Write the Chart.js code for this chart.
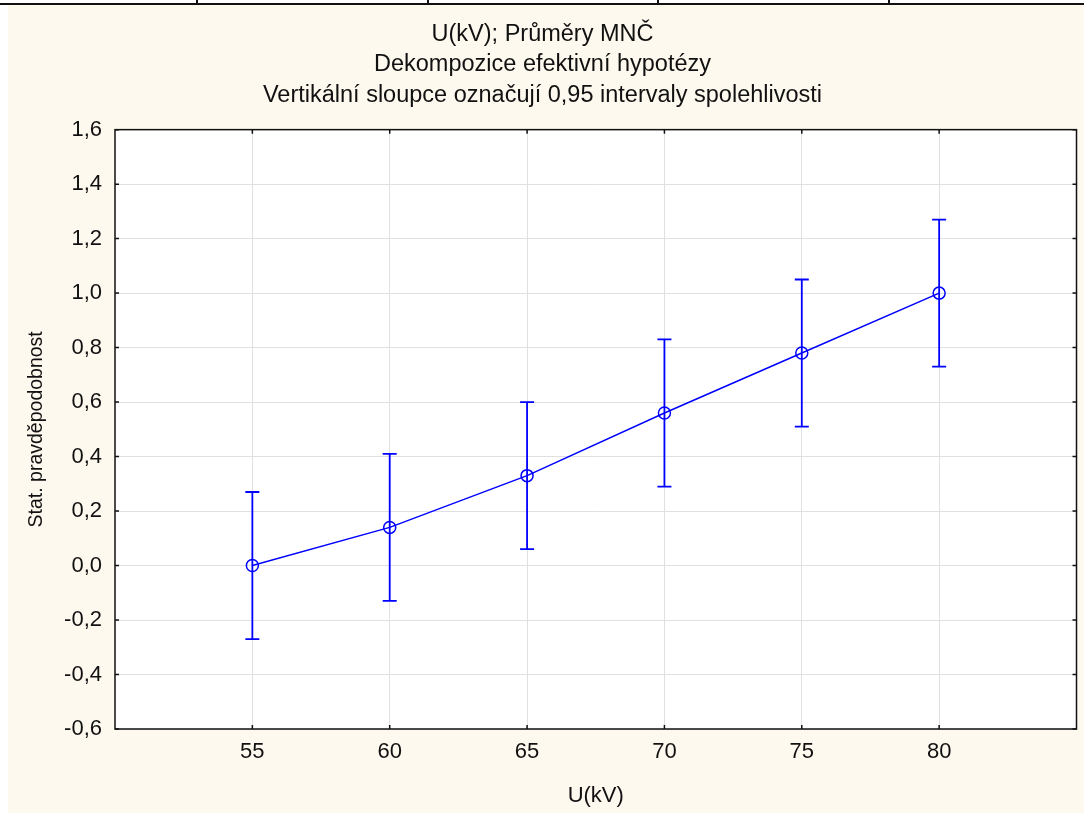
<!DOCTYPE html>
<html>
<head>
<meta charset="utf-8">
<script src="https://cdn.jsdelivr.net/npm/chart.js@4/dist/chart.umd.min.js"></script>
<style>
  body { margin: 0; background: #fff; width: 1084px; height: 813px; position: relative; overflow: hidden; }
  .rule { position: absolute; left: 0; top: 3px; width: 1084px; height: 2px; background: #111; }
  .tick { position: absolute; top: 0; width: 2px; height: 4px; background: #111; }
  #wrap { position: absolute; left: 8px; top: 5px; width: 1076px; height: 808px; background: #fef9ee; }
</style>
</head>
<body>
<div class="rule"></div>
<div class="tick" style="left:196px"></div>
<div class="tick" style="left:427px"></div>
<div class="tick" style="left:657px"></div>
<div class="tick" style="left:888px"></div>
<div id="wrap"><canvas id="chart" width="1076" height="808"></canvas></div>
<script>
// --- dados (U v kV, průměry a 0,95 intervaly) ---
const voltages = [55, 60, 65, 70, 75, 80];
const means = [0.00, 0.14, 0.33, 0.56, 0.78, 1.00];
const lower = [-0.27, -0.13, 0.06, 0.29, 0.51, 0.73];
const upper = [0.27, 0.41, 0.60, 0.83, 1.05, 1.27];
const xTicks = [55, 60, 65, 70, 75, 80];
const titleLines = ['U(kV); Průměry MNČ', 'Dekompozice efektivní hypotézy', 'Vertikální sloupce označují 0,95 intervaly spolehlivosti'];

const FONT = 'Arial, "Liberation Sans", sans-serif';
const BLUE = '#0000ff';

// bílá plocha grafu, chybové úsečky + rámeček s vnitřními značkami
const extras = {
    id: 'extras',
    beforeDraw(chart) {
        const { ctx, chartArea: a } = chart;
        ctx.save();
        ctx.fillStyle = '#fff';
        ctx.fillRect(a.left, a.top, a.right - a.left, a.bottom - a.top);
        ctx.restore();
    },
    afterDatasetsDraw(chart) {
        const { ctx, chartArea: a, scales: { x, y } } = chart;
        ctx.save();
        ctx.strokeStyle = BLUE;
        ctx.lineWidth = 1.8;
        voltages.forEach((v, i) => {
            const px = x.getPixelForValue(v);
            const top = y.getPixelForValue(upper[i]);
            const bot = y.getPixelForValue(lower[i]);
            ctx.beginPath();
            ctx.moveTo(px, top); ctx.lineTo(px, bot);
            ctx.moveTo(px - 7, top); ctx.lineTo(px + 7, top);
            ctx.moveTo(px - 7, bot); ctx.lineTo(px + 7, bot);
            ctx.stroke();
        });
        // rámeček
        ctx.strokeStyle = '#111';
        ctx.lineWidth = 1.5;
        ctx.strokeRect(a.left, a.top, a.right - a.left, a.bottom - a.top);
        ctx.beginPath();
        x.ticks.forEach(t => {
            const px = x.getPixelForValue(t.value);
            ctx.moveTo(px, a.bottom); ctx.lineTo(px, a.bottom - 4);
            ctx.moveTo(px, a.top); ctx.lineTo(px, a.top + 4);
        });
        y.ticks.forEach(t => {
            const py = y.getPixelForValue(t.value);
            ctx.moveTo(a.left, py); ctx.lineTo(a.left + 4, py);
            ctx.moveTo(a.right, py); ctx.lineTo(a.right - 4, py);
        });
        ctx.stroke();
        ctx.restore();
    }
};

new Chart(document.getElementById('chart'), {
    type: 'line',
    data: {
        datasets: [{
            data: voltages.map((v, i) => ({ x: v, y: means[i] })),
            borderColor: BLUE, borderWidth: 1.5,
            pointRadius: 6, pointHoverRadius: 6, pointBorderWidth: 1.5,
            pointBorderColor: BLUE, pointBackgroundColor: 'rgba(0,0,0,0)'
        }]
    },
    options: {
        responsive: false, animation: false,
        layout: { padding: { left: 0, right: 7, top: 0, bottom: 0 } },
        plugins: {
            legend: { display: false }, tooltip: { enabled: false },
            title: {
                display: true, text: titleLines, color: '#111',
                font: { family: FONT, size: 23.5, weight: 'normal', lineHeight: 1.3 },
                padding: { top: 14, bottom: 19 }
            }
        },
        scales: {
            x: {
                type: 'linear', min: 50, max: 85,
                afterBuildTicks: s => { s.ticks = xTicks.map(v => ({ value: v })); },
                afterFit: s => { s.height = 84; },
                grid: { color: '#e0e0e0', lineWidth: 1, drawTicks: false },
                border: { display: false },
                ticks: { color: '#111', font: { family: FONT, size: 22 }, padding: 10 },
                title: { display: true, text: 'U(kV)', color: '#111', font: { family: FONT, size: 22 }, padding: { top: 3 } }
            },
            y: {
                min: -0.6, max: 1.6,
                afterFit: s => { s.width = 107; },
                grid: { color: '#e0e0e0', lineWidth: 1, drawTicks: false },
                border: { display: false },
                ticks: {
                    stepSize: 0.2, color: '#111', font: { family: FONT, size: 22 }, padding: 13,
                    callback: v => v.toFixed(1).replace('.', ',')
                },
                title: { display: true, text: 'Stat. pravděpodobnost', color: '#111', font: { family: FONT, size: 19.5 }, padding: { top: 17, bottom: 0 } }
            }
        }
    },
    plugins: [extras]
});
</script>
</body>
</html>
